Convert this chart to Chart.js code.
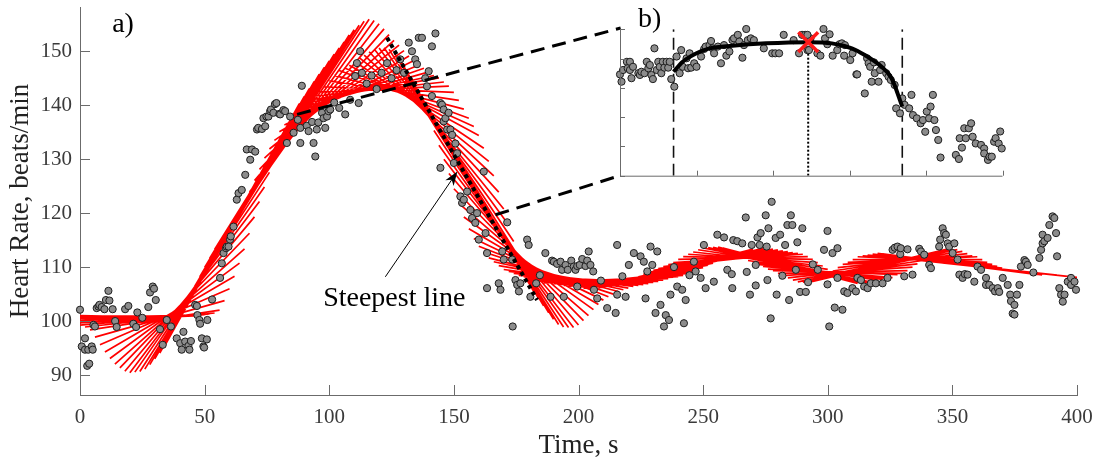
<!DOCTYPE html>
<html><head><meta charset="utf-8">
<script src="https://cdn.jsdelivr.net/npm/chart.js@4.4.0/dist/chart.umd.min.js"></script>
<style>
html,body{margin:0;padding:0;background:#fff;}
#wrap{position:relative;width:1104px;height:463px;overflow:hidden;}
#main{position:absolute;left:0;top:0;}
#inset{position:absolute;left:600px;top:0;}
</style></head><body>
<div id="wrap"><canvas id="main" width="1104" height="463"></canvas><canvas id="inset" width="420" height="195"></canvas></div>
<script>
// ---------------- data ----------------
const xTicks = [0,50,100,150,200,250,300,350,400];
const yTicks = [90,100,110,120,130,140,150];

const hrTime = [
0.0,0.7,2.0,2.0,2.9,3.3,3.7,4.7,5.1,5.4,
6.0,6.7,7.4,7.8,8.7,9.8,10.4,11.4,11.8,13.1,
14.1,14.7,18.1,19.4,21.4,22.5,23.0,25.0,27.4,28.1,
29.2,29.7,30.4,32.1,33.2,34.8,36.5,38.8,40.2,40.8,
41.5,42.2,43.5,43.9,44.5,46.2,46.9,47.1,47.9,48.2,
48.9,49.5,49.8,50.9,51.1,53.0,56.2,56.9,57.6,58.6,
58.9,59.6,60.2,60.5,61.6,62.9,63.6,64.9,66.3,66.9,
68.3,69.0,70.3,71.0,71.5,73.0,73.6,74.3,74.8,75.6,
76.3,76.6,77.6,78.2,78.8,80.0,80.3,81.6,82.3,83.0,
84.3,85.7,87.4,88.4,88.4,89.0,91.0,91.7,93.1,93.7,
94.4,95.0,95.6,97.1,97.7,98.4,99.1,99.7,100.4,102.0,
104.0,106.4,108.4,110.4,111.1,111.8,112.4,113.1,115.0,117.0,
119.0,121.0,123.2,125.0,127.0,128.5,130.0,131.9,133.2,134.5,
135.2,135.9,137.2,138.5,139.2,139.9,141.2,141.2,142.6,144.6,
144.6,145.2,145.9,145.9,146.6,147.3,147.9,148.6,149.3,150.0,
150.6,151.3,152.6,153.3,154.0,155.3,156.6,157.3,158.6,159.3,
160.0,162.0,162.7,163.3,163.3,168.0,168.7,169.4,170.0,171.4,
173.4,173.6,174.7,175.4,176.1,176.7,179.4,180.0,180.7,183.0,
184.5,186.7,188.8,189.4,190.1,191.4,192.8,193.4,194.1,194.8,
195.7,197.1,198.1,198.8,199.5,199.5,200.5,201.5,202.8,203.5,
204.1,204.8,205.9,206.2,207.5,209.0,211.5,214.9,215.5,215.5,
217.6,218.9,220.2,222.2,224.9,226.2,226.9,227.6,228.9,229.6,
230.9,231.6,232.9,234.3,235.0,236.3,236.9,238.3,239.6,241.6,
242.3,243.0,244.5,246.3,247.0,249.0,250.3,251.0,254.3,255.7,
258.4,259.7,261.5,261.7,262.1,263.7,265.7,267.1,267.5,268.8,
269.5,271.1,271.1,271.8,272.7,273.1,275.1,275.5,275.8,276.2,
277.1,277.5,279.1,279.5,280.9,281.8,282.9,283.8,284.5,285.2,
285.8,287.2,287.8,288.9,289.8,291.2,292.1,294.0,296.0,298.5,
299.9,299.9,300.6,301.9,302.8,303.9,303.9,305.9,306.6,307.9,
309.9,311.3,311.9,313.3,314.6,316.0,317.3,319.3,322.0,324.0,
326.0,326.9,328.0,329.1,329.3,330.7,332.0,334.0,336.7,337.4,
338.7,340.7,341.4,344.7,345.1,346.1,346.7,347.4,348.1,348.7,
350.1,350.8,352.1,352.8,354.1,355.0,356.1,358.8,360.1,361.5,
363.5,363.5,364.8,366.2,367.1,368.2,368.8,370.2,372.2,373.2,
373.5,374.2,374.9,374.9,375.9,376.9,377.5,378.9,379.5,380.2,
382.5,384.9,385.6,386.2,386.2,386.9,388.2,388.9,390.2,390.9,
391.6,392.0,392.9,393.6,394.3,395.0,396.3,397.6,397.6,399.0,
399.6];
const hrBpm = [
102.1,95.3,96.8,94.7,91.7,94.7,92.1,95.3,94.7,99.3,
99.0,102.4,102.7,103.0,102.6,102.2,103.9,105.6,103.8,102.2,
100.0,98.9,102.2,102.8,99.5,98.9,101.6,100.6,102.6,105.3,
106.4,106.0,103.9,98.5,95.6,100.2,99.0,96.8,95.9,94.7,
98.0,96.2,95.4,94.7,96.3,103.0,102.8,101.1,100.2,99.5,
96.8,95.3,95.1,96.6,100.2,104.0,108.0,110.7,112.6,113.5,
113.8,113.8,115.1,115.7,117.5,122.5,123.7,124.3,127.1,131.8,
129.9,131.8,131.4,135.5,135.8,135.6,137.6,136.1,137.9,137.9,
138.9,139.2,138.6,140.2,140.4,138.4,138.3,139.1,138.9,133.0,
137.9,134.9,137.3,135.8,133.0,143.6,136.2,135.2,136.9,133.0,
130.5,135.5,136.8,138.6,137.6,135.8,137.9,138.9,139.2,140.5,
139.5,138.3,141.0,145.4,147.8,140.4,150.0,146.0,144.0,145.5,
143.0,146.0,147.8,145.0,146.5,148.5,146.0,151.6,150.0,148.5,
147.6,152.5,152.5,145.0,143.5,146.3,150.9,141.7,153.3,140.4,
128.4,140.1,139.2,137.0,137.6,135.5,138.6,135.5,134.5,129.3,
132.9,131.1,123.1,121.9,122.5,124.0,120.6,119.1,118.2,120.0,
115.1,127.7,116.3,112.6,106.1,107.0,105.8,112.9,111.4,118.3,
111.4,99.0,107.6,106.7,105.5,107.0,115.1,114.1,104.5,107.0,
108.5,112.6,104.5,111.2,111.0,110.6,111.0,109.5,104.5,110.4,
109.5,111.2,110.1,109.5,110.2,106.4,110.4,111.5,110.2,111.2,
112.9,110.4,109.2,105.8,104.2,107.5,102.4,101.5,114.1,104.9,
108.3,104.5,110.4,112.6,112.0,111.0,104.2,109.2,113.8,110.4,
101.5,112.9,103.0,99.0,101.1,100.2,104.9,110.0,106.4,105.8,
99.6,103.9,108.5,111.0,109.2,108.0,114.1,106.1,107.3,116.0,
115.5,109.5,108.7,106.1,115.0,114.8,114.4,119.2,109.1,104.9,
114.1,106.6,110.4,115.5,114.1,116.3,119.6,113.8,107.6,117.2,
100.5,122.1,115.4,104.9,116.0,108.4,114.1,117.8,103.9,119.6,
117.8,109.5,114.6,105.4,117.2,105.4,107.2,110.5,109.5,113.2,
116.7,106.8,99.0,112.6,102.5,113.5,108.0,102.1,105.5,105.2,
106.1,105.5,108.0,107.6,106.4,106.1,107.0,107.0,107.0,108.0,
113.2,113.6,113.8,112.4,113.5,108.3,113.3,108.6,113.4,112.9,
112.3,110.4,109.8,113.8,115.1,117.2,116.3,116.0,114.4,113.8,
112.6,114.4,111.4,108.6,108.0,108.7,108.6,107.3,110.1,109.5,
108.0,106.7,106.7,106.1,105.5,106.1,105.4,108.0,106.7,104.9,
103.7,101.4,103.0,101.2,104.9,106.7,110.1,111.3,111.0,110.4,
109.0,111.7,113.2,114.4,116.0,114.8,115.4,117.8,119.4,119.1,
116.3,112.0,106.1,104.9,103.6,104.9,107.3,108.0,106.7,107.3,
105.8];

// moving-window linear fits: centre time, fitted value at centre, slope (bpm/s)
const fitCenter = [
0,2,4,6,8,10,12,14,16,18,20,22,24,26,28,30,32,34,36,38,
40,42,44,46,48,50,52,54,56,58,60,62,64,66,68,70,72,74,76,78,
80,82,84,86,88,90,92,94,96,98,100,102,104,106,108,110,112,114,116,118,
120,122,124,126,128,130,132,134,136,138,140,142,144,146,148,150,152,154,156,158,
160,162,164,166,168,170,172,174,176,178,180,182,184,186,188,190,192,194,196,198,
200,202,204,206,208,210,212,214,216,218,220,222,224,226,228,230,232,234,236,238,
240,242,244,246,248,250,252,254,256,258,260,262,264,266,268,270,272,274,276,278,
280,282,284,286,288,290,292,294,296,298,300,302,304,306,308,310,312,314,316,318,
320,322,324,326,328,330,332,334,336,338,340,342,344,346,348,350,352,354,356,358,
360,362,364,366,368,370,372,374];
const fitValue = [
100.8,100.8,100.9,100.9,100.9,100.9,100.9,100.8,100.8,100.7,100.6,100.5,100.4,100.3,100.2,100.2,100.4,100.8,101.3,101.9,
102.7,103.8,105.0,106.3,107.7,109.1,110.6,112.2,113.8,115.4,117.0,118.7,120.3,122.0,123.6,125.2,126.7,128.2,129.7,131.1,
132.5,133.8,135.0,136.1,137.1,138.0,138.8,139.5,140.1,140.6,141.1,141.5,141.8,142.1,142.3,142.5,142.7,142.8,142.9,143.0,
143.0,143.0,142.9,142.7,142.4,142.0,141.5,140.9,140.1,139.2,138.1,136.9,135.6,134.2,132.7,131.1,129.5,127.9,126.3,124.7,
123.1,121.6,120.1,118.6,117.1,115.7,114.4,113.3,112.3,111.4,110.7,110.1,109.6,109.2,108.9,108.6,108.4,108.2,108.0,107.9,
107.8,107.7,107.7,107.6,107.6,107.6,107.6,107.7,107.7,107.8,107.9,108.0,108.1,108.3,108.4,108.6,108.8,109.0,109.2,109.5,
109.7,109.9,110.2,110.4,110.6,110.8,111.0,111.1,111.2,111.3,111.4,111.5,111.6,111.7,111.7,111.6,111.5,111.4,111.2,111.0,
110.8,110.6,110.4,110.1,109.9,109.7,109.5,109.4,109.3,109.2,109.1,109.1,109.1,109.1,109.2,109.3,109.4,109.6,109.8,110.0,
110.2,110.5,110.7,110.9,111.1,111.2,111.3,111.4,111.4,111.4,111.3,111.2,111.1,111.0,110.9,110.7,110.6,110.5,110.3,110.2,
110.1,110.0,109.9,109.8,109.7,109.6,109.5,109.4];
const fitSlope = [
0.00,0.00,-0.01,-0.01,-0.01,-0.01,0.00,0.00,0.01,0.01,0.02,0.02,0.03,0.04,0.05,0.07,0.13,0.20,0.27,0.34,
0.41,0.48,0.55,0.61,0.66,0.71,0.75,0.78,0.80,0.82,0.83,0.83,0.82,0.81,0.80,0.79,0.78,0.77,0.76,0.75,
0.74,0.74,0.73,0.72,0.71,0.69,0.65,0.60,0.54,0.48,0.42,0.37,0.32,0.27,0.23,0.19,0.16,0.13,0.10,0.08,
0.05,0.02,-0.02,-0.07,-0.12,-0.17,-0.21,-0.25,-0.31,-0.37,-0.43,-0.50,-0.57,-0.63,-0.69,-0.74,-0.78,-0.80,-0.80,-0.79,
-0.78,-0.77,-0.76,-0.74,-0.70,-0.65,-0.60,-0.54,-0.47,-0.40,-0.33,-0.27,-0.22,-0.18,-0.15,-0.12,-0.10,-0.08,-0.06,-0.05,
-0.04,-0.03,-0.02,-0.01,0.00,0.01,0.02,0.02,0.03,0.04,0.05,0.06,0.07,0.08,0.09,0.10,0.10,0.11,0.11,0.12,
0.12,0.12,0.12,0.11,0.11,0.10,0.09,0.08,0.07,0.06,0.05,0.04,0.03,0.01,-0.01,-0.03,-0.05,-0.07,-0.09,-0.10,
-0.11,-0.12,-0.12,-0.12,-0.11,-0.10,-0.09,-0.07,-0.06,-0.05,-0.04,-0.02,-0.01,0.01,0.03,0.05,0.07,0.09,0.10,0.11,
0.11,0.11,0.10,0.09,0.07,0.05,0.03,0.02,0.00,-0.02,-0.03,-0.04,-0.05,-0.06,-0.06,-0.06,-0.06,-0.06,-0.06,-0.06,
-0.06,-0.05,-0.05,-0.05,-0.05,-0.05,-0.05,-0.05];

// steepest line and annotation anchors (time s, bpm)
const steepestTime = [123.2, 183.4];
const steepestBpm  = [152.5, 103.9];
const zoomLineTopTime = [87.1, 216.9];
const zoomLineTopBpm  = [138.3, 154.3];
const zoomLineBotTime = [166.7, 216.9];
const zoomLineBotBpm  = [119.7, 127.0];
const arrowTime = [122.5, 151.4];
const arrowBpm  = [108.2, 127.7];

// inset b) (normalised axes 0..5)
const insetTicks = [0,1,2,3,4,5];
const insetU = [
0.00,0.02,0.04,0.09,0.10,0.13,0.13,0.15,0.17,0.24,
0.26,0.28,0.32,0.35,0.37,0.39,0.41,0.43,0.45,0.48,
0.50,0.52,0.54,0.56,0.58,0.61,0.63,0.65,0.67,0.71,
0.74,0.78,0.80,0.82,0.87,0.89,0.91,0.93,0.97,1.00,
1.06,1.10,1.12,1.17,1.19,1.21,1.23,1.28,1.32,1.36,
1.39,1.43,1.47,1.49,1.54,1.56,1.60,1.62,1.65,1.67,
1.71,1.75,1.88,1.99,2.03,2.08,2.14,2.27,2.34,2.38,
2.42,2.45,2.49,2.45,2.47,2.58,2.62,2.66,2.68,2.71,
2.74,2.78,2.84,2.87,2.90,2.93,2.94,3.01,3.04,3.09,
3.10,3.20,3.23,3.25,3.27,3.29,3.32,3.33,3.38,3.40,
3.42,3.48,3.51,3.54,3.59,3.61,3.66,3.69,3.72,3.78,
3.81,3.83,3.88,3.93,3.96,3.99,4.01,4.04,4.06,4.09,
4.11,4.13,4.16,4.19,4.39,4.43,4.44,4.47,4.50,4.52,
4.56,4.59,4.61,4.65,4.72,4.76,4.76,4.81,4.83,4.86,
4.89,4.91,4.95,4.97,4.99];
const insetW = [
3.46,3.21,3.61,3.89,3.67,3.89,3.61,3.33,3.72,3.50,
3.44,3.55,3.50,3.89,3.67,3.78,3.44,3.30,4.35,3.61,
3.89,3.72,3.50,3.89,3.69,3.89,3.69,3.89,3.30,3.04,
4.07,3.50,4.29,3.72,4.01,3.67,4.18,3.69,3.84,3.72,
4.07,4.33,4.41,4.46,4.60,4.35,4.18,4.41,3.84,4.46,
4.10,4.24,4.63,4.69,4.81,4.58,4.03,4.46,5.01,4.63,
4.69,4.63,4.35,4.18,4.18,4.18,4.81,4.63,4.18,4.81,
4.81,4.29,4.69,4.81,4.29,4.18,4.10,5.01,4.69,4.49,
4.83,4.10,4.29,4.49,4.52,4.10,4.46,3.95,4.18,3.46,
3.46,2.81,4.01,3.84,3.72,3.21,3.87,3.50,3.21,3.61,
3.78,3.50,3.38,3.27,3.10,2.30,2.13,2.64,2.42,2.30,
2.76,2.07,1.96,1.79,1.90,1.50,2.19,1.96,2.36,2.76,
1.90,1.56,1.22,0.62,0.71,0.57,1.28,0.96,1.62,1.28,
1.62,1.79,1.33,1.10,1.05,0.93,0.76,0.54,0.65,0.65,
1.16,1.28,1.10,1.51,0.93];
const insetFitU = [0.70,0.82,1.00,1.17,1.47,1.91,2.46,2.77,3.03,3.20,3.42,3.55,3.69];
const insetFitW = [3.55,3.89,4.18,4.35,4.44,4.52,4.56,4.52,4.35,4.12,3.72,3.33,2.36];
const insetDashU = [0.70, 3.69];
const insetPeakU = 2.46;
const insetPeakW = 4.56;

// ---------------- styling constants ----------------
const SERIF = "'Liberation Serif', 'Times New Roman', serif";
const AXIS = '#6b6b6b';
const TICKTXT = '#3a3a3a';
const HALF_SPAN = 26;   // half width (s) of each fitted window line

// ---------------- build datasets ----------------
const dots = hrTime.map((t,i)=>({x:t, y:hrBpm[i]}));
const redSegs = [];
fitCenter.forEach((c,i)=>{
  redSegs.push({x:c-HALF_SPAN, y:fitValue[i]-fitSlope[i]*HALF_SPAN});
  redSegs.push({x:c+HALF_SPAN, y:fitValue[i]+fitSlope[i]*HALF_SPAN});
  redSegs.push({x:null, y:null});
});
const pairs = (xs,ys)=>xs.map((v,i)=>({x:v,y:ys[i]}));

const mainDecor = {
  id:'mainDecor',
  afterDraw(chart){
    const {ctx, chartArea:a, scales:{x,y}} = chart;
    ctx.save();
    ctx.strokeStyle = AXIS; ctx.lineWidth = 1;
    x.ticks.forEach(t=>{
      const p = Math.round(x.getPixelForValue(t.value))+0.5;
      ctx.beginPath(); ctx.moveTo(p,a.bottom); ctx.lineTo(p,a.bottom-10); ctx.stroke();
    });
    y.ticks.forEach(t=>{
      const p = Math.round(y.getPixelForValue(t.value))+0.5;
      ctx.beginPath(); ctx.moveTo(a.left,p); ctx.lineTo(a.left+10,p); ctx.stroke();
    });
    // arrow
    const x0=x.getPixelForValue(arrowTime[0]), y0=y.getPixelForValue(arrowBpm[0]);
    const x1=x.getPixelForValue(arrowTime[1]), y1=y.getPixelForValue(arrowBpm[1]);
    const ang = Math.atan2(y1-y0, x1-x0);
    ctx.strokeStyle='#000'; ctx.fillStyle='#000'; ctx.lineWidth=1;
    ctx.beginPath(); ctx.moveTo(x0,y0); ctx.lineTo(x1-8*Math.cos(ang), y1-8*Math.sin(ang)); ctx.stroke();
    ctx.beginPath();
    ctx.moveTo(x1,y1);
    ctx.lineTo(x1-14*Math.cos(ang)+5*Math.sin(ang), y1-14*Math.sin(ang)-5*Math.cos(ang));
    ctx.lineTo(x1-10*Math.cos(ang), y1-10*Math.sin(ang));
    ctx.lineTo(x1-14*Math.cos(ang)-5*Math.sin(ang), y1-14*Math.sin(ang)+5*Math.cos(ang));
    ctx.closePath(); ctx.fill();
    // texts
    ctx.fillStyle='#000';
    ctx.font = '28px ' + SERIF;
    ctx.textBaseline='alphabetic';
    ctx.textAlign='left';
    ctx.fillText('a)', x.getPixelForValue(12.9), y.getPixelForValue(153.6));
    ctx.textAlign='center';
    ctx.fillText('Steepest line', x.getPixelForValue(126.1), y.getPixelForValue(102.8));
    ctx.restore();
  }
};

new Chart(document.getElementById('main'), {
  type:'scatter',
  data:{datasets:[
    {type:'line', data:pairs(steepestTime, steepestBpm), borderColor:'#000', borderWidth:4, borderDash:[4,3.5], pointRadius:0, order:0},
    {type:'line', data:pairs(zoomLineTopTime, zoomLineTopBpm), borderColor:'#000', borderWidth:3, borderDash:[14,8], pointRadius:0, order:0, clip:false},
    {type:'line', data:pairs(zoomLineBotTime, zoomLineBotBpm), borderColor:'#000', borderWidth:3, borderDash:[14,8], pointRadius:0, order:0, clip:false},
    {type:'scatter', data:dots, pointRadius:3.6, pointBackgroundColor:'#8c8c8c', pointBorderColor:'#1e1e1e', pointBorderWidth:1, order:1, clip:false},
    {type:'line', data:redSegs, borderColor:'#ff0000', borderWidth:1.7, pointRadius:0, spanGaps:false, tension:0, order:3}
  ]},
  options:{
    responsive:false, animation:false, devicePixelRatio:1, events:[],
    layout:{padding:{left:0, right:27, top:7, bottom:0}},
    plugins:{legend:{display:false}, tooltip:{enabled:false}},
    scales:{
      x:{type:'linear', min:0, max:400,
        afterBuildTicks:s=>{s.ticks = xTicks.map(v=>({value:v}));},
        afterFit:s=>{s.height = 68; s.paddingLeft = 0; s.paddingRight = 0;},
        grid:{display:false, drawTicks:false},
        border:{display:true, color:AXIS, width:1},
        ticks:{color:TICKTXT, font:{family:SERIF, size:21}, padding:10, maxRotation:0, autoSkip:false},
        title:{display:true, text:'Time, s', color:'#222', font:{family:SERIF, size:27}, padding:{top:0,bottom:1}}
      },
      y:{type:'linear', min:86.3, max:158.2,
        afterBuildTicks:s=>{s.ticks = yTicks.map(v=>({value:v}));},
        afterFit:s=>{s.width = 80; s.paddingTop = 0; s.paddingBottom = 0;},
        grid:{display:false, drawTicks:false},
        border:{display:true, color:AXIS, width:1},
        ticks:{color:TICKTXT, font:{family:SERIF, size:21}, padding:8, autoSkip:false},
        title:{display:true, text:'Heart Rate, beats/min', color:'#222', font:{family:SERIF, size:27}, padding:{top:5,bottom:0}}
      }
    }
  },
  plugins:[mainDecor]
});

// ---------------- inset ----------------
const insetDecor = {
  id:'insetDecor',
  afterDraw(chart){
    const {ctx, chartArea:a, scales:{x,y}} = chart;
    ctx.save();
    ctx.strokeStyle = AXIS; ctx.lineWidth = 1;
    ctx.beginPath(); ctx.moveTo(a.left+0.5, a.top); ctx.lineTo(a.left+0.5, a.bottom+0.5); ctx.lineTo(a.right, a.bottom+0.5); ctx.stroke();
    insetTicks.forEach(v=>{
      const px = Math.round(x.getPixelForValue(v))+0.5;
      ctx.beginPath(); ctx.moveTo(px, a.bottom); ctx.lineTo(px, a.bottom-5); ctx.stroke();
      const py = Math.round(y.getPixelForValue(v))+0.5;
      ctx.beginPath(); ctx.moveTo(a.left, py); ctx.lineTo(a.left+5, py); ctx.stroke();
    });
    ctx.fillStyle='#000'; ctx.font='28px '+SERIF; ctx.textAlign='left'; ctx.textBaseline='alphabetic';
    ctx.fillText('b)', 38, 27);
    ctx.restore();
  }
};

new Chart(document.getElementById('inset'), {
  type:'scatter',
  data:{datasets:[
    {type:'scatter', data:[{x:insetPeakU, y:insetPeakW}], pointStyle:'crossRot', pointRadius:14, pointBorderWidth:3.5, pointBorderColor:'#ff1a1a', pointBackgroundColor:'#ff1a1a', order:-1, clip:false},
    {type:'line', data:pairs(insetFitU, insetFitW), borderColor:'#000', borderWidth:4, pointRadius:0, cubicInterpolationMode:'monotone', order:0},
    {type:'line', data:[{x:insetDashU[0],y:0},{x:insetDashU[0],y:5}], borderColor:'#111', borderWidth:1.6, borderDash:[12,6], pointRadius:0, order:2},
    {type:'line', data:[{x:insetDashU[1],y:0},{x:insetDashU[1],y:5}], borderColor:'#111', borderWidth:1.6, borderDash:[12,6], pointRadius:0, order:2},
    {type:'line', data:[{x:insetPeakU,y:0},{x:insetPeakU,y:insetPeakW}], borderColor:'#000', borderWidth:2, borderDash:[2,2], pointRadius:0, order:2},
    {type:'scatter', data:pairs(insetU, insetW), pointRadius:3.6, pointBackgroundColor:'#8c8c8c', pointBorderColor:'#1e1e1e', pointBorderWidth:1, order:1, clip:false}
  ]},
  options:{
    responsive:false, animation:false, devicePixelRatio:1, events:[],
    layout:{padding:{left:20, right:15, top:29.3, bottom:19.3}},
    plugins:{legend:{display:false}, tooltip:{enabled:false}},
    scales:{x:{type:'linear', min:0, max:5, display:false}, y:{type:'linear', min:0, max:5, display:false}}
  },
  plugins:[insetDecor]
});
</script>
</body></html>
